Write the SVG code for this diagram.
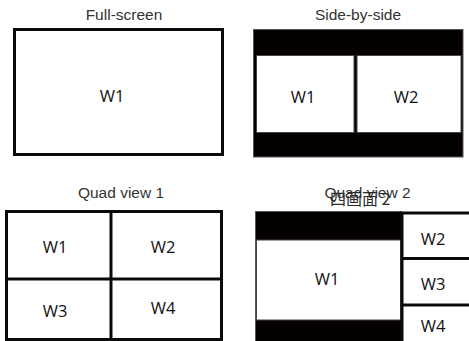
<svg xmlns="http://www.w3.org/2000/svg" width="469" height="341" viewBox="0 0 469 341">
<style>
.title{font-family:"Liberation Sans",Arial,sans-serif;font-size:15.5px;fill:#333;text-anchor:middle}
.cjk{font-family:"Noto Sans CJK SC","Noto Sans CJK JP",sans-serif;font-size:16px;fill:#2a2a2a}
.lbl{font-family:"Open Sans","Noto Sans",sans-serif;font-size:16.5px;fill:#111;text-anchor:middle}
.frame{fill:#fff;stroke:#0a0a0a;stroke-width:3}
.line{stroke:#0a0a0a;stroke-width:3;fill:none}
.bar{fill:#050000;stroke:#555;stroke-width:1}
.win{fill:#fff;stroke:#444;stroke-width:1}
</style>
<rect width="469" height="341" fill="#fff"/>

<g id="fullscreen">
<text class="title" x="124" y="20">Full-screen</text>
<rect class="frame" x="14.5" y="29.5" width="208" height="125"/>
<text class="lbl" x="112" y="102">W1</text>
</g>

<g id="side-by-side">
<text class="title" x="358" y="20">Side-by-side</text>
<rect class="bar" x="253.5" y="29.5" width="209.5" height="127.5"/>
<rect class="win" x="256.5" y="55.5" width="97.5" height="77"/>
<rect class="win" x="357" y="55.5" width="104" height="77"/>
<text class="lbl" x="303" y="103">W1</text>
<text class="lbl" x="406" y="103">W2</text>
</g>

<g id="quad-view-1">
<text class="title" x="121" y="198">Quad view 1</text>
<rect class="frame" x="6.5" y="211.5" width="215" height="128"/>
<line class="line" x1="111" y1="211.5" x2="111" y2="341"/>
<line class="line" x1="6.5" y1="279" x2="221.5" y2="279"/>
<text class="lbl" x="55" y="253">W1</text>
<text class="lbl" x="163" y="253">W2</text>
<text class="lbl" x="55" y="317">W3</text>
<text class="lbl" x="163" y="314">W4</text>
</g>

<g id="quad-view-2">
<text class="title" x="367.5" y="198">Quad view 2</text>
<text class="cjk" x="330" y="205">四画面 2</text>
<rect class="bar" x="255.5" y="211.5" width="146" height="135"/>
<rect class="win" x="256.5" y="240" width="144" height="80"/>
<rect class="frame" x="402" y="213" width="80" height="140" stroke-width="2.5"/>
<line class="line" x1="402" y1="258.5" x2="469" y2="258.5" stroke-width="2.5"/>
<line class="line" x1="402" y1="305" x2="469" y2="305" stroke-width="2.5"/>
<text class="lbl" x="327" y="285">W1</text>
<text class="lbl" x="433" y="245">W2</text>
<text class="lbl" x="433" y="290">W3</text>
<text class="lbl" x="433" y="332">W4</text>
</g>
</svg>
